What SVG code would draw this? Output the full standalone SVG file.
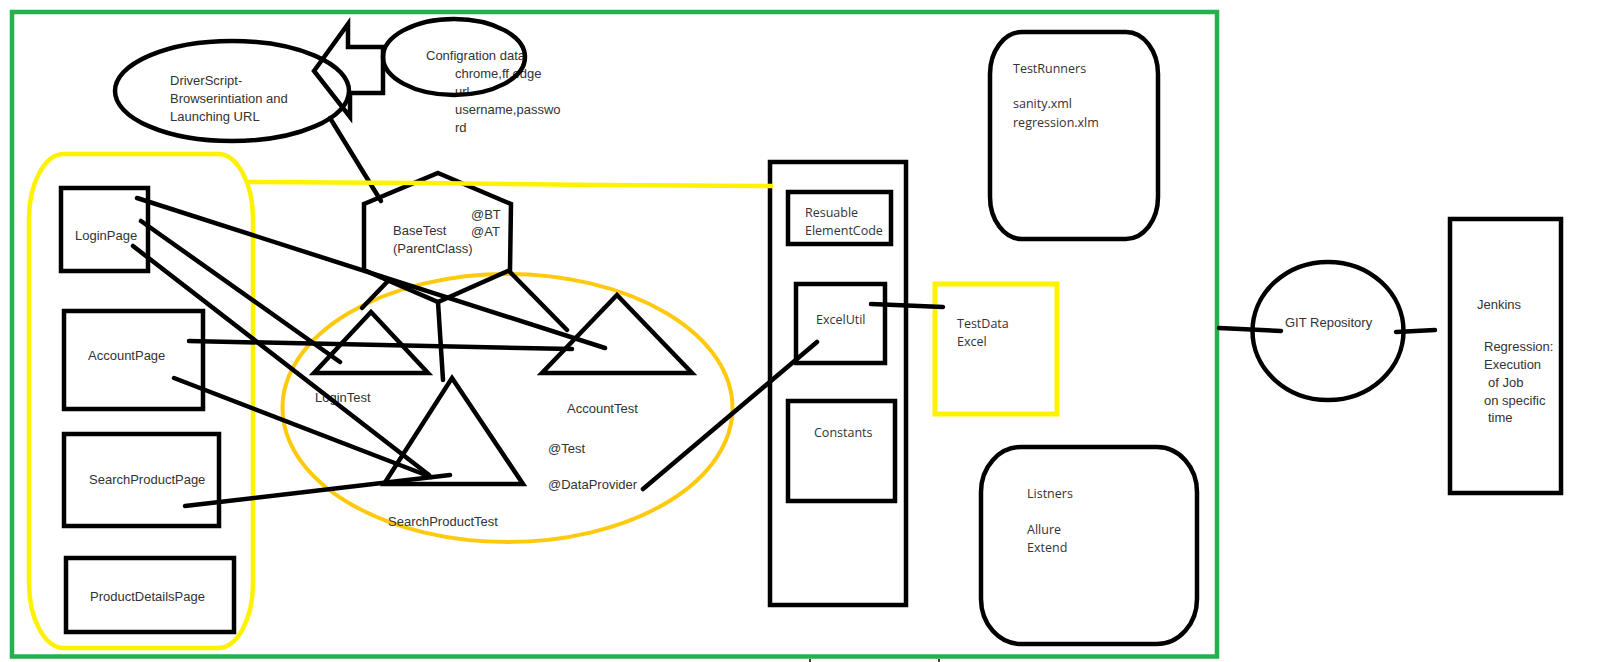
<svg xmlns="http://www.w3.org/2000/svg" width="1601" height="662" viewBox="0 0 1601 662">
<style>
.k{fill:none;stroke:#000;stroke-width:4.5}
.ln{fill:none;stroke:#000;stroke-width:4.5;stroke-linecap:round}
.y{fill:none;stroke:#fff200;stroke-width:4.5}
.o{fill:none;stroke:#ffc90e;stroke-width:4}
.g{fill:none;stroke:#22b14c;stroke-width:4.5}
.t{font-family:"Liberation Sans",Arial,sans-serif;font-size:13px;fill:#333}
.s{font-family:"Open Sans","Liberation Sans",sans-serif;font-size:12.5px;fill:#333}
</style>
<rect width="1601" height="662" fill="#fff"/>

<!-- outer framework boundary -->
<rect class="g" x="12" y="12" width="1205" height="644.5"/>
<line x1="810" y1="659" x2="810" y2="662" stroke="#000" stroke-width="1.5"/>
<line x1="939" y1="659" x2="939" y2="662" stroke="#000" stroke-width="1.5"/>

<!-- page objects group -->
<rect id="pages-group" class="y" x="29" y="154" width="224" height="494" rx="35" ry="65"/>
<!-- test classes group -->
<ellipse id="tests-group" class="o" cx="507.5" cy="408" rx="225" ry="134"/>

<g id="driver-script">
  <ellipse class="k" cx="232" cy="91" rx="117" ry="50"/>
  <text class="t" x="170" y="85">DriverScript-</text>
  <text class="t" x="170" y="103">Browserintiation and</text>
  <text class="t" x="170" y="121">Launching URL</text>
</g>

<g id="config-data">
  <text class="t" x="426" y="60">Configration data</text>
  <text class="t" x="455" y="78">chrome,ff,edge</text>
  <text class="t" x="455" y="96">url</text>
  <text class="t" x="455" y="114">username,passwo</text>
  <text class="t" x="455" y="132">rd</text>
  <ellipse class="k" cx="454" cy="57" rx="71" ry="38"/>
  <polygon class="k" points="314,71 348,24 348,47 383,47 383,93 350,93 350,117"/>
</g>

<g id="base-test">
  <polygon class="k" points="438,173 511,204 510,270 438,302 364,270 364,204"/>
  <text class="t" x="393" y="235">BaseTest</text>
  <text class="t" x="393" y="253">(ParentClass)</text>
  <text class="t" x="471" y="219">@BT</text>
  <text class="t" x="471" y="236">@AT</text>
</g>

<g id="login-page">
  <rect class="k" x="61" y="188" width="87" height="83"/>
  <text class="t" x="75" y="240">LoginPage</text>
</g>
<g id="account-page">
  <rect class="k" x="64" y="311" width="139" height="98"/>
  <text class="t" x="88" y="360">AccountPage</text>
</g>
<g id="search-product-page">
  <rect class="k" x="64" y="434" width="155" height="92"/>
  <text class="t" x="89" y="484">SearchProductPage</text>
</g>
<g id="product-details-page">
  <rect class="k" x="66" y="558" width="168" height="74"/>
  <text class="t" x="90" y="601">ProductDetailsPage</text>
</g>

<g id="login-test">
  <polygon class="k" points="371,312 428,373 314,373"/>
  <text class="t" x="315" y="402">LoginTest</text>
</g>
<g id="account-test">
  <polygon class="k" points="617,295 692,373 542,373"/>
  <text class="t" x="567" y="413">AccountTest</text>
  <text class="t" x="548" y="453">@Test</text>
  <text class="t" x="548" y="489">@DataProvider</text>
</g>
<g id="search-product-test">
  <polygon class="k" points="452,378 523,484 384,484"/>
  <text class="t" x="388" y="526">SearchProductTest</text>
</g>

<g id="utilities">
  <rect class="k" x="770" y="162" width="136" height="443"/>
  <g id="reusable-element-code">
    <rect class="k" x="788" y="192" width="103" height="52"/>
    <text class="s" x="805" y="217">Resuable</text>
    <text class="s" x="805" y="235">ElementCode</text>
  </g>
  <g id="excel-util">
    <rect class="k" x="796" y="284" width="89" height="79"/>
    <text class="s" x="816" y="324">ExcelUtil</text>
  </g>
  <g id="constants">
    <rect class="k" x="788" y="401" width="107" height="100"/>
    <text class="s" x="814" y="437">Constants</text>
  </g>
</g>

<g id="test-data">
  <rect x="935" y="284" width="122" height="130" fill="none" stroke="#fff200" stroke-width="5"/>
  <text class="s" x="957" y="328">TestData</text>
  <text class="s" x="957" y="346">Excel</text>
</g>

<g id="test-runners">
  <rect class="k" x="990" y="32" width="168" height="207" rx="32" ry="42"/>
  <text class="s" x="1013" y="73">TestRunners</text>
  <text class="s" x="1013" y="108">sanity.xml</text>
  <text class="s" x="1013" y="127">regression.xlm</text>
</g>

<g id="listeners">
  <rect class="k" x="981" y="447" width="216" height="197" rx="40" ry="45"/>
  <text class="s" x="1027" y="498">Listners</text>
  <text class="s" x="1027" y="534">Allure</text>
  <text class="s" x="1027" y="552">Extend</text>
</g>

<g id="git-repository">
  <ellipse class="k" cx="1328" cy="331" rx="75.5" ry="69"/>
  <text class="t" x="1285" y="327">GIT Repository</text>
</g>

<g id="jenkins">
  <rect class="k" x="1450" y="219" width="111" height="274"/>
  <text class="t" x="1477" y="309">Jenkins</text>
  <text class="t" x="1484" y="351">Regression:</text>
  <text class="t" x="1484" y="369">Execution</text>
  <text class="t" x="1488" y="387">of Job</text>
  <text class="t" x="1484" y="405">on specific</text>
  <text class="t" x="1488" y="422">time</text>
</g>

<g id="connectors">
  <line class="ln" x1="330" y1="118" x2="381" y2="201"/>
  <line class="ln" x1="388" y1="281" x2="362" y2="308"/>
  <line class="ln" x1="438" y1="302" x2="443" y2="380"/>
  <line class="ln" x1="510" y1="272" x2="567" y2="330"/>
  <line class="ln" x1="137" y1="198" x2="605" y2="348"/>
  <line class="ln" x1="141" y1="221" x2="340" y2="362"/>
  <line class="ln" x1="133" y1="246" x2="429" y2="475"/>
  <line class="ln" x1="189" y1="341" x2="572" y2="349"/>
  <line class="ln" x1="174" y1="378" x2="431" y2="477"/>
  <line class="ln" x1="185" y1="506" x2="450" y2="475" stroke-width="5"/>
  <line class="ln" x1="643" y1="489" x2="817" y2="342"/>
  <line class="ln" x1="871" y1="304" x2="943" y2="307"/>
  <line class="ln" x1="1219" y1="328" x2="1281" y2="331"/>
  <line class="ln" x1="1396" y1="332" x2="1435" y2="330"/>
  <polyline class="y" points="247,182 420,183 600,185 773,186"/>
</g>
</svg>
